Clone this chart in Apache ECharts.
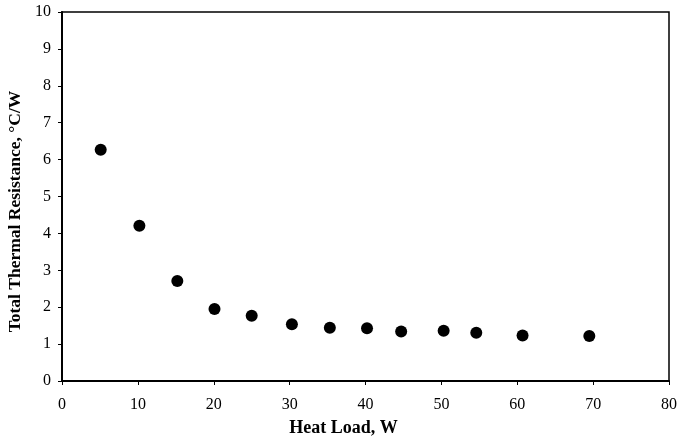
<!DOCTYPE html>
<html>
<head>
<meta charset="utf-8">
<script src="https://cdn.jsdelivr.net/npm/echarts@6/dist/echarts.min.js"></script>
<style>
  html, body { margin: 0; padding: 0; background: #fff; }
  #chart { width: 690px; height: 438px; }
</style>
</head>
<body>
<div id="chart"></div>
<script>
// heat load (W) and total thermal resistance (°C/W)
const heatLoad = [5.1, 10.2, 15.2, 20.1, 25.0, 30.3, 35.3, 40.2, 44.7, 50.3, 54.6, 60.7, 69.5];
const resistance = [6.27, 4.21, 2.71, 1.95, 1.77, 1.54, 1.44, 1.43, 1.34, 1.36, 1.31, 1.23, 1.22];

const serif = 'Liberation Serif';
const myChart = echarts.init(document.getElementById('chart'));

let option = {
  backgroundColor: '#fff',
  animation: false,
  grid: {
    left: 62,
    top: 12,
    right: 21,
    bottom: 57,
    outerBoundsMode: 'none',
    show: true,
    borderColor: '#000',
    borderWidth: 1.5
  },
  xAxis: {
    type: 'value',
    min: 0,
    max: 80,
    interval: 10,
    name: 'Heat Load, W',
    nameLocation: 'middle',
    nameGap: 38,
    nameTextStyle: { fontFamily: serif, fontSize: 18, fontWeight: 'bold', color: '#000', padding: [0, 44, 0, 0] },
    axisLine: { lineStyle: { color: '#000', width: 2 } },
    axisTick: { show: true, length: 4, lineStyle: { color: '#000' } },
    axisLabel: { fontFamily: serif, fontSize: 16, color: '#000', margin: 16 },
    splitLine: { show: false }
  },
  yAxis: {
    type: 'value',
    min: 0,
    max: 10,
    interval: 1,
    name: 'Total Thermal Resistance, \u00B0C/W',
    nameLocation: 'middle',
    nameGap: 30,
    nameTextStyle: { fontFamily: serif, fontSize: 17.5, fontWeight: 'bold', color: '#000', padding: [0, 30, 0, 0] },
    axisLine: { lineStyle: { color: '#000', width: 2 } },
    axisTick: { show: true, length: 4, lineStyle: { color: '#000' } },
    axisLabel: { fontFamily: serif, fontSize: 16, color: '#000', margin: 11 },
    splitLine: { show: false }
  },
  series: [{
    type: 'scatter',
    symbol: 'circle',
    symbolSize: 12,
    itemStyle: { color: '#000', opacity: 1 },
    data: heatLoad.map((x, i) => [x, resistance[i]])
  }]
};

myChart.setOption(option);
</script>
</body>
</html>
